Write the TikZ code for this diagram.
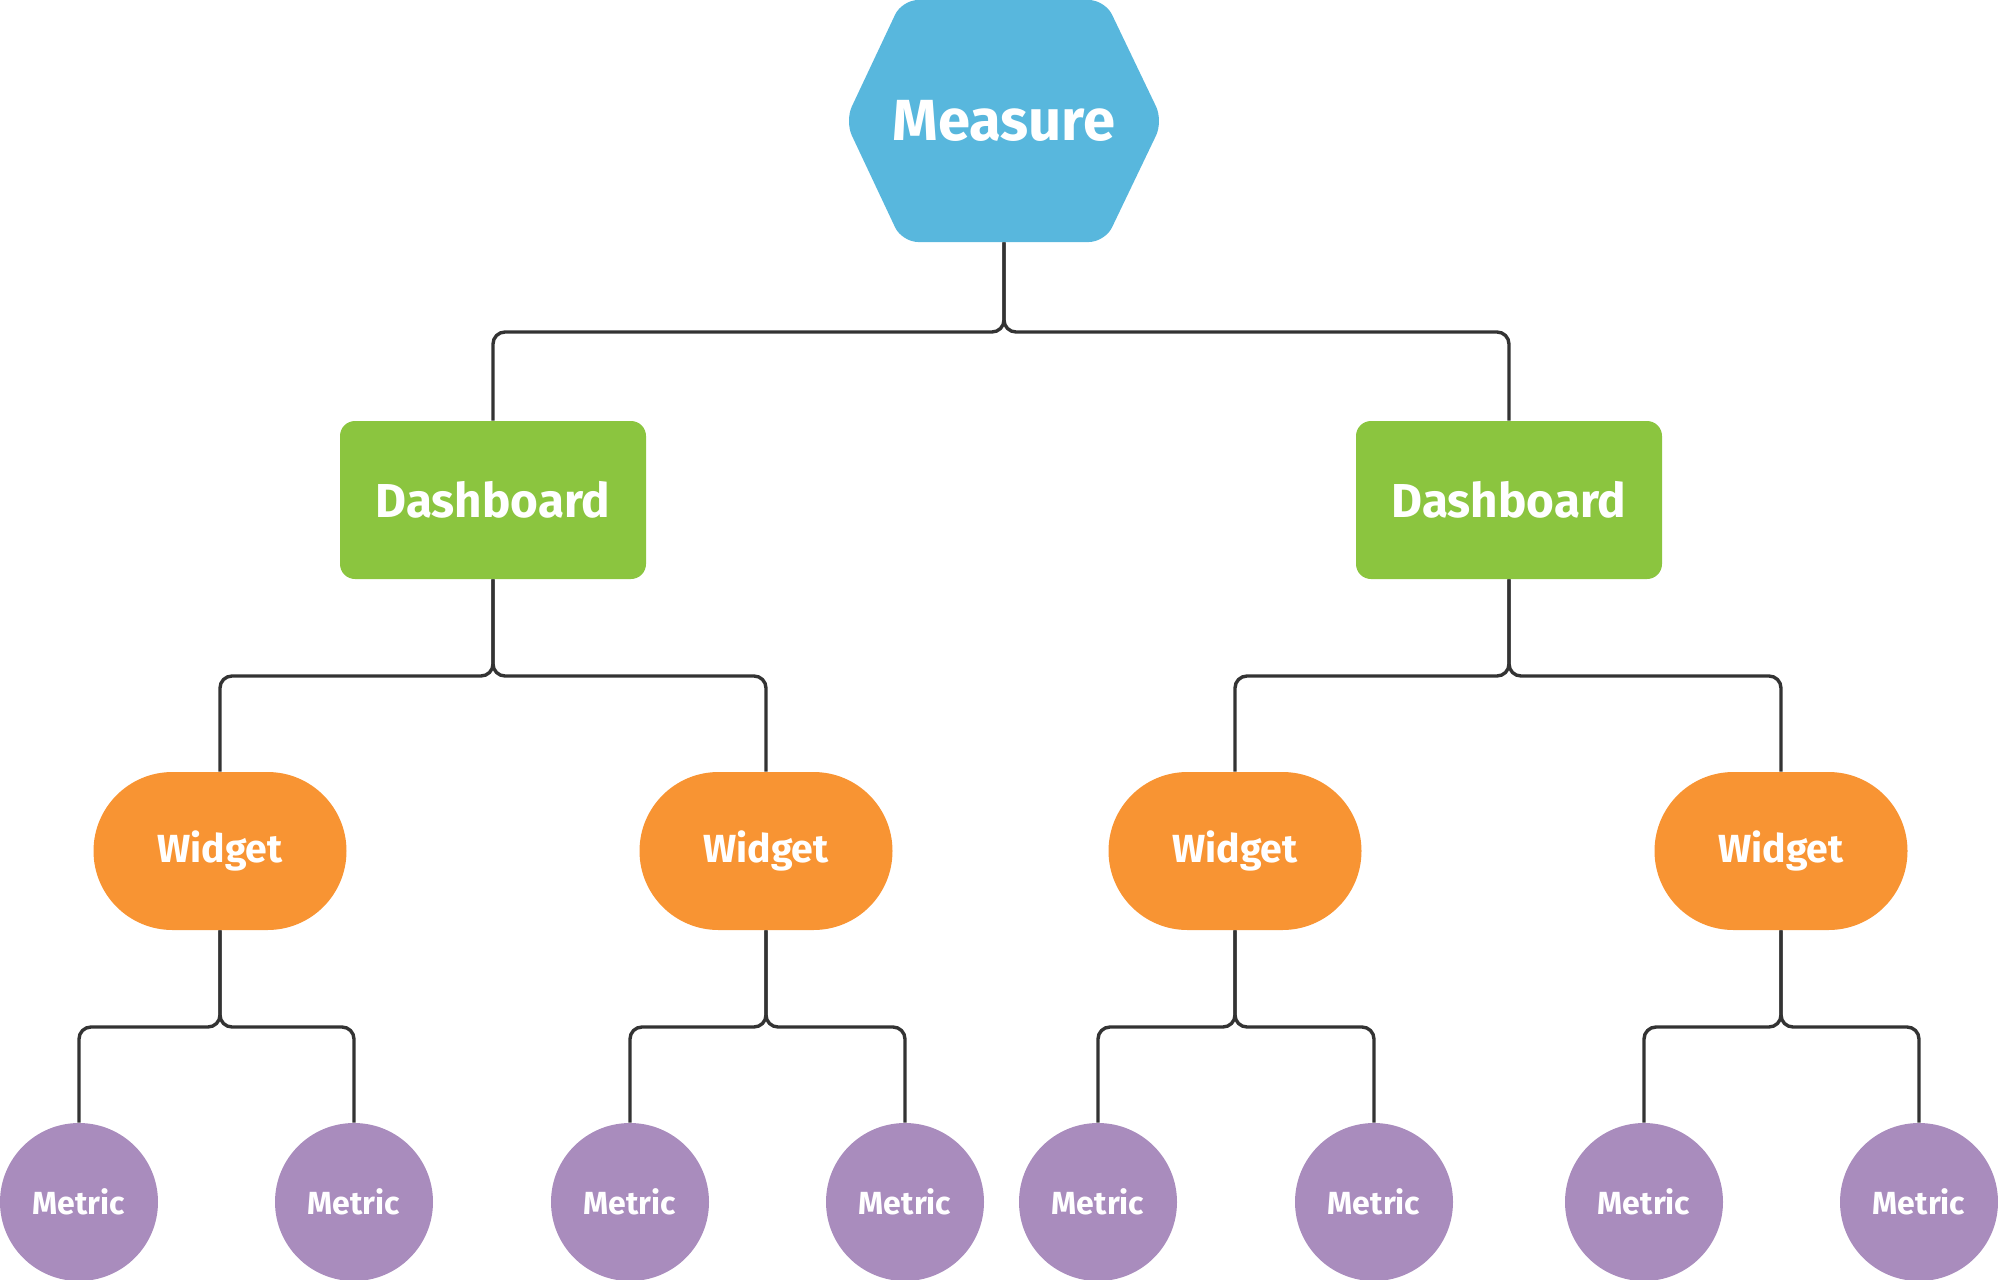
\documentclass[tikz,border=0pt]{standalone}
\usepackage{fontspec}
\setmainfont{Fira Sans}
\usetikzlibrary{calc}
\definecolor{hexblue}{HTML}{58B7DD}
\definecolor{dashgreen}{HTML}{8BC53F}
\definecolor{widgetorange}{HTML}{F89433}
\definecolor{metricpurple}{HTML}{A98CBD}
\definecolor{linegray}{HTML}{333333}
\begin{document}
\begin{tikzpicture}[x=0.5pt,y=-0.5pt,
  lbl/.style={text=white,font=\bfseries},
  measurebox/.style={lbl,inner sep=0pt,minimum width=159pt,minimum height=121pt,font=\bfseries\fontsize{29}{30}\selectfont},
  dashbox/.style={lbl,fill=dashgreen,rounded corners=7.5pt,inner sep=0pt,minimum width=153pt,minimum height=79pt,font=\bfseries\fontsize{23.8}{25}\selectfont},
  widgetbox/.style={lbl,fill=widgetorange,rounded corners=39.5pt,inner sep=0pt,minimum width=126.5pt,minimum height=79pt,font=\bfseries\fontsize{19.6}{21}\selectfont},
  metricbox/.style={lbl,fill=metricpurple,circle,inner sep=0pt,minimum size=79pt,font=\bfseries\fontsize{16}{17}\selectfont},
  conn/.style={draw=linegray,line width=1.7pt,rounded corners=6pt}
]
\useasboundingbox (0,0) rectangle (1998,1280);
% hexagon
\fill[hexblue,rounded corners=8pt] (845,121) -- (902,0) -- (1105,0) -- (1163,121) -- (1105,242) -- (902,242) -- cycle;
\node[measurebox] (measure) at (1004,121) {Measure};
% dashboards
\node[dashbox] (dashL) at (493,500) {Dashboard};
\node[dashbox] (dashR) at (1509,500) {Dashboard};
% widgets
\node[widgetbox] (w1) at (220,851) {Widget};
\node[widgetbox] (w2) at (766,851) {Widget};
\node[widgetbox] (w3) at (1235,851) {Widget};
\node[widgetbox] (w4) at (1781,851) {Widget};
% metrics
\node[metricbox] (m1) at (79,1202) {Metric};
\node[metricbox] (m2) at (354,1202) {Metric};
\node[metricbox] (m3) at (630,1202) {Metric};
\node[metricbox] (m4) at (905,1202) {Metric};
\node[metricbox] (m5) at (1098,1202) {Metric};
\node[metricbox] (m6) at (1374,1202) {Metric};
\node[metricbox] (m7) at (1644,1202) {Metric};
\node[metricbox] (m8) at (1919,1202) {Metric};
% connectors
\foreach \c in {dashL,dashR}
  \draw[conn] (measure.south) -- (measure.south |- 0,332) -- (\c.north |- 0,332) -- (\c.north);
\foreach \c in {w1,w2}
  \draw[conn] (dashL.south) -- (dashL.south |- 0,676) -- (\c.north |- 0,676) -- (\c.north);
\foreach \c in {w3,w4}
  \draw[conn] (dashR.south) -- (dashR.south |- 0,676) -- (\c.north |- 0,676) -- (\c.north);
\foreach \p/\c in {w1/m1,w1/m2,w2/m3,w2/m4,w3/m5,w3/m6,w4/m7,w4/m8}
  \draw[conn] (\p.south) -- (\p.south |- 0,1027) -- (\c.north |- 0,1027) -- (\c.north);
\end{tikzpicture}
\end{document}
